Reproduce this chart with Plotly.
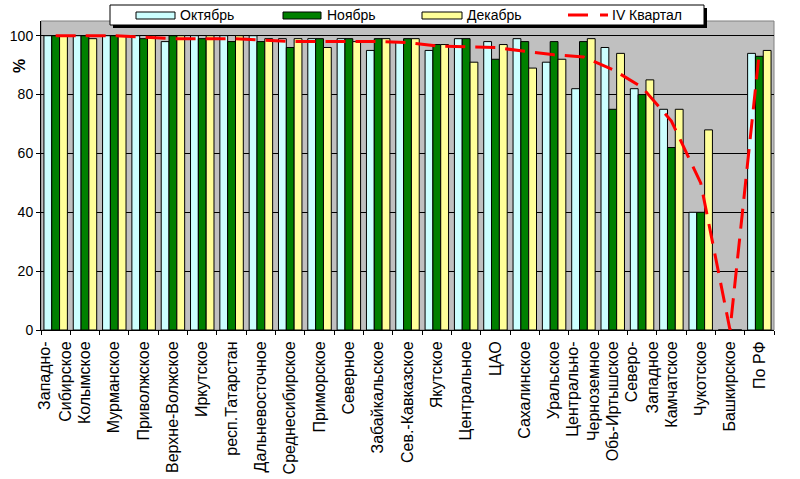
import plotly.graph_objects as go

categories = ["Западно-<br>Сибирское", "Колымское", "Мурманское", "Приволжское", "Верхне-Волжское",
              "Иркутское", "респ.Татарстан", "Дальневосточное", "Среднесибирское", "Приморское",
              "Северное", "Забайкальское", "Сев.-Кавказское", "Якутское", "Центральное", "ЦАО",
              "Сахалинское", "Уральское", "Центрально-<br>Черноземное", "Обь-Иртышское",
              "Северо-<br>Западное", "Камчатское", "Чукотское", "Башкирское", "По РФ"]
october = [100, 100, 100, 100, 98, 100, 100, 100, 99, 99, 99, 95, 98, 95, 99, 98, 99, 91, 82, 96, 82, 75, 40, 0, 94]
november = [100, 100, 100, 99, 100, 99, 98, 98, 96, 99, 99, 99, 99, 97, 99, 92, 98, 98, 98, 75, 80, 62, 40, 0, 93]
december = [100, 99, 100, 100, 100, 100, 100, 99, 99, 96, 98, 99, 99, 97, 91, 97, 89, 92, 99, 94, 85, 75, 68, 0, 95]
quarter = [100, 100, 100, 99.5, 99, 99, 99, 98.5, 98, 98, 98, 98, 97.7, 96.5, 96.2, 96, 94.7, 93.5, 92.8, 88.5, 82.5, 71, 50, 0, 94.5]
y_ticks = [0, 20, 40, 60, 80, 100]
series_names = ["Октябрь", "Ноябрь", "Декабрь", "IV Квартал"]
colors = ["#CCFFFF", "#008000", "#FFFF99", "#FF0000"]

FONT = "Arial, Liberation Sans, sans-serif"
L, R, T, B = 41, 26, 21, 149
W, H = 800, 479
PW, PH = W - L - R, H - T - B

def px(x):
    return (x - L) / PW

def py(y):
    return (H - B - y) / PH

fig = go.Figure()
bar_line = dict(color="black", width=1)
for name, vals, col in zip(series_names[:3], [october, november, december], colors[:3]):
    fig.add_trace(go.Bar(x=categories, y=vals, name=name, marker=dict(color=col, line=bar_line)))
fig.add_trace(go.Scatter(x=categories, y=quarter, name=series_names[3], mode="lines",
                         line=dict(color=colors[3], width=3, dash="20px,10px")))

# manual legend (box with shadow, swatches, labels)
shapes = [
    dict(type="rect", xref="paper", yref="paper", x0=0, x1=1, y0=0, y1=1,
         line=dict(color="#808080", width=1), fillcolor="rgba(0,0,0,0)", layer="below"),
    dict(type="rect", xref="paper", yref="paper", x0=px(113), x1=px(707), y0=py(28), y1=py(8),
         line=dict(width=0), fillcolor="black", layer="above"),
    dict(type="rect", xref="paper", yref="paper", x0=px(110), x1=px(704), y0=py(25), y1=py(5),
         line=dict(color="black", width=1), fillcolor="white", layer="above"),
]
swatch_x = [(136, 175), (283, 321), (422, 462)]
for (a, b), col in zip(swatch_x, colors[:3]):
    shapes.append(dict(type="rect", xref="paper", yref="paper", x0=px(a), x1=px(b),
                       y0=py(19), y1=py(12), line=dict(color="black", width=1),
                       fillcolor=col, layer="above"))
for a, b in [(568, 588), (600, 608)]:
    shapes.append(dict(type="line", xref="paper", yref="paper", x0=px(a), x1=px(b),
                       y0=py(15), y1=py(15), line=dict(color=colors[3], width=3), layer="above"))

text_x = [179, 326, 466, 611]
annotations = [
    dict(text="<b>%</b>", xref="paper", yref="paper", x=px(19), y=py(66), showarrow=False,
         textangle=-90, font=dict(size=16, family=FONT, color="black"),
         xanchor="center", yanchor="middle"),
]
for name, tx in zip(series_names, text_x):
    annotations.append(dict(text=name, xref="paper", yref="paper", x=px(tx), y=py(15.5),
                            showarrow=False, xanchor="left", yanchor="middle",
                            font=dict(size=14, family=FONT, color="black"),
                            borderpad=0))

fig.update_layout(
    width=W, height=H,
    margin=dict(l=L, r=R, t=T, b=B, pad=0, autoexpand=False),
    paper_bgcolor="white",
    plot_bgcolor="#C0C0C0",
    barmode="group", bargap=0.2, bargroupgap=0,
    font=dict(family=FONT, size=14, color="black"),
    showlegend=False,
    xaxis=dict(type="category", tickangle=-90, tickson="boundaries", ticks="outside",
               ticklen=4, tickcolor="black", showline=True, linecolor="black", linewidth=1,
               showgrid=False, tickfont=dict(size=16, family=FONT, color="black"),
               ticklabelstandoff=4,
               range=[-0.5, len(categories) - 0.5], automargin=False),
    yaxis=dict(range=[0, 105], tickvals=y_ticks, ticks="outside", ticklen=4, tickcolor="black",
               showline=True, linecolor="black", linewidth=1, showgrid=True, gridcolor="black",
               gridwidth=1, zeroline=False, tickfont=dict(size=14, family=FONT, color="black"),
               automargin=False),
    shapes=shapes,
    annotations=annotations,
)

fig.write_html("out.html")
